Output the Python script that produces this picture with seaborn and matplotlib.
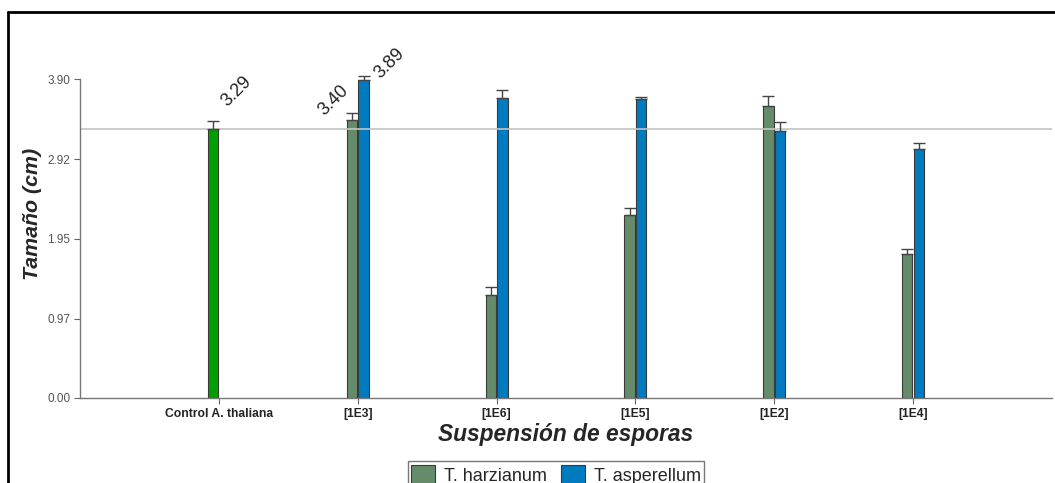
import numpy as np
import pandas as pd
import matplotlib
matplotlib.use("Agg")
import matplotlib.pyplot as plt
from matplotlib.lines import Line2D
import seaborn as sns

# Data
categories = ["Control A. thaliana", "[1E3]", "[1E6]", "[1E5]", "[1E2]", "[1E4]"]
harzianum = [3.29, 3.40, 1.26, 2.24, 3.57, 1.76]
harzianum_err = [0.10, 0.08, 0.10, 0.08, 0.12, 0.06]
asperellum = [np.nan, 3.89, 3.67, 3.66, 3.26, 3.04]
asperellum_err = [0.0, 0.05, 0.10, 0.02, 0.12, 0.08]
control_value = 3.29
yticks = [0.00, 0.97, 1.95, 2.92, 3.90]

series = ["T. harzianum", "T. asperellum"]
palette = {"T. harzianum": "#658c6a", "T. asperellum": "#007bbf"}
control_color = "#00a000"

rows = []
for i, cat in enumerate(categories):
    if not np.isnan(harzianum[i]):
        rows.append((cat, series[0], harzianum[i]))
    if not np.isnan(asperellum[i]):
        rows.append((cat, series[1], asperellum[i]))
df = pd.DataFrame(rows, columns=["Suspension", "Especie", "Tamano"])
errs = {series[0]: harzianum_err, series[1]: asperellum_err}

sns.set_style("white")
plt.rcParams['font.family'] = ['Liberation Sans', 'DejaVu Sans']

fig = plt.figure(figsize=(10.55, 4.83), dpi=100)
ax = fig.add_axes([80 / 1055, 85 / 483, 972 / 1055, 368 / 483])

sns.barplot(data=df, x="Suspension", y="Tamano", hue="Especie",
            order=categories, hue_order=series, palette=palette,
            width=0.168, gap=0.12, errorbar=None, edgecolor="#3a3a3a",
            linewidth=0.8, saturation=1, ax=ax)

# colour the control bar and add one-sided error bars
for level, cont in zip(series, ax.containers):
    for bar in cont:
        xc = bar.get_x() + bar.get_width() / 2
        h = bar.get_height()
        if np.isnan(h):
            continue
        idx = int(round(xc))
        if idx == 0:
            bar.set_facecolor(control_color)
        ax.errorbar(xc, h, yerr=[[0], [errs[level][idx]]], fmt="none",
                    ecolor="#444444", elinewidth=1, capsize=4, capthick=1, zorder=3)

# reference line at the control value
ax.axhline(control_value, color="#c4c4c4", lw=1.2, zorder=1)

# rotated value labels
def bar_center(level_i, cat_i):
    for bar in ax.containers[level_i]:
        xc = bar.get_x() + bar.get_width() / 2
        if int(round(xc)) == cat_i:
            return xc
    return cat_i

labels = [(0, 0, harzianum[0] + harzianum_err[0], "3.29", (17, 21)),
          (0, 1, harzianum[1] + harzianum_err[1], "3.40", (-13, 9)),
          (1, 1, asperellum[1] + asperellum_err[1], "3.89", (19, 9))]
for li, ci, y, txt, off in labels:
    ax.annotate(txt, xy=(bar_center(li, ci), y), xytext=off, textcoords="offset points",
                rotation=45, ha="center", va="center", fontsize=13, color="#222222")

ax.set_xlim(-1.0, 6.0)
ax.set_ylim(0, 4.5)
ax.set_yticks(yticks)
ax.set_yticklabels([f"{v:.2f}" for v in yticks], fontsize=8.5, color="#555555")
ax.set_xticks(range(len(categories)))
ax.set_xticklabels(categories, fontsize=8.7, fontweight="bold", color="#222222")
ax.tick_params(axis="both", direction="out", length=4, width=0.8, color="#666666",
               left=True, bottom=True, pad=3)

sns.despine(ax=ax)
for s in ["left", "bottom"]:
    ax.spines[s].set_color("#777777")
    ax.spines[s].set_linewidth(1)
ax.spines["left"].set_bounds(0, yticks[-1])

ax.set_ylabel("Tamaño (cm)", fontsize=15.4, fontweight="bold", style="italic", labelpad=4)
ax.set_xlabel("Suspensión de esporas", fontsize=16.4, fontweight="bold", style="italic", labelpad=2)

handles, lbls = ax.get_legend_handles_labels()
ax.get_legend().remove()
leg = fig.legend(handles, lbls, loc="upper center", bbox_to_anchor=(0.527, 0.064), ncol=2,
                 fontsize=13, frameon=True, fancybox=False, edgecolor="#555555",
                 handlelength=1.3, handleheight=1.3, handletextpad=0.5, columnspacing=0.8,
                 borderpad=0.2)
leg.get_frame().set_linewidth(1)

# outer frame of the figure (top and left edges visible)
fig.add_artist(Line2D([8 / 1055, 1.0], [1 - 12 / 483, 1 - 12 / 483], transform=fig.transFigure,
                      color="black", lw=2))
fig.add_artist(Line2D([8 / 1055, 8 / 1055], [0, 1 - 12 / 483], transform=fig.transFigure,
                      color="black", lw=2))

fig.savefig("out.png", dpi=100)
